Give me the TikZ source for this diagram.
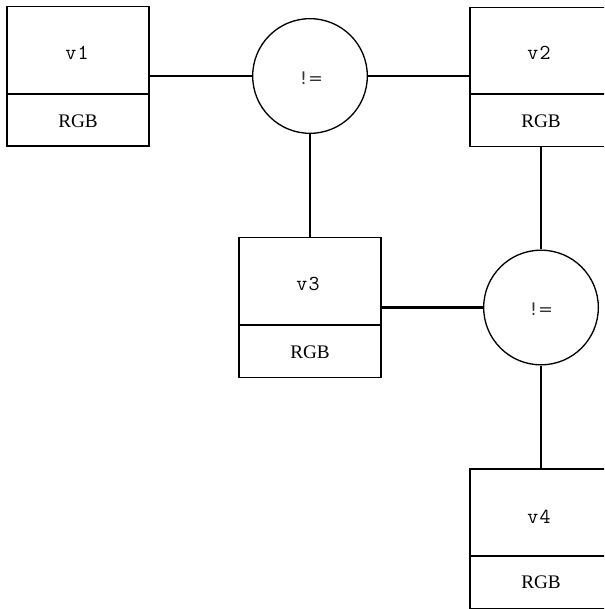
\documentclass[tikz,border=0pt]{standalone}
\usepackage{fontspec}
\setmainfont{Liberation Serif}
\newfontfamily\opfont{DejaVu Sans}
\newfontfamily\namefont{Latin Modern Mono}[LetterSpace=6]
\begin{document}
\begin{tikzpicture}[x=0.75pt,y=-0.75pt,
  varbox/.style={draw, line width=1pt, minimum width=106.5pt, minimum height=104.5pt, inner sep=0pt},
  constraint/.style={circle, draw, line width=1pt, minimum size=86pt, inner sep=0pt},
  optext/.style={font=\opfont\fontsize{13}{15}\selectfont, text=black!80, inner sep=0pt},
  varname/.style={font=\fontsize{16}{18}\selectfont\namefont, inner sep=0pt},
  vartype/.style={font=\fontsize{14.4}{16}\selectfont, inner sep=0pt},
  divider/.style={line width=1pt},
  link/.style={line width=1.9pt}]
\useasboundingbox (0,0) rectangle (604,609);
\clip (0,0) rectangle (604,609);

% variables: name on top, domain below the divider
\node[varbox] (v1) at (78,76.5) {};
\node[varbox] (v2) at (541,77) {};
\node[varbox] (v3) at (310,307.5) {};
\node[varbox] (v4) at (541,538.5) {};

\coordinate (d1) at (0,94);
\coordinate (d2) at (0,94);
\coordinate (d3) at (0,325);
\coordinate (d4) at (0,556);
\foreach \v in {1,2,3,4}
  \draw[divider] (v\v.west |- d\v) -- (v\v.east |- d\v);

\node[varname] (n1) at (77,52.5) {v1};
\node[varname] (n2) at (539,52.5) {v2};
\node[varname] (n3) at (308,284) {v3};
\node[varname] (n4) at (539,517) {v4};

\node[vartype] (t1) at (78,121.5) {RGB};
\node[vartype] (t2) at (541,121.5) {RGB};
\node[vartype] (t3) at (310,352) {RGB};
\node[vartype] (t4) at (541,582.5) {RGB};

% inequality constraints
\node[constraint] (c1) at (310,76) {};
\node[constraint] (c2) at (541,307.5) {};
\node[optext] (o1) at (311.5,77.8) {!\kern1pt=};
\node[optext] (o2) at (541.5,309.5) {!\kern1pt=};

% edges between variables and constraints
\draw[link] (c1.west) -- (c1.west -| v1.east);
\draw[link] (c1.east) -- (c1.east -| v2.west);
\draw[link] (c1.south) -- (v3.north);
\draw[link] (v2.south) -- (c2.north);
\draw[link] (v3.east) -- (c2.west);
\draw[link] (c2.south) -- (v4.north);
\end{tikzpicture}
\end{document}
